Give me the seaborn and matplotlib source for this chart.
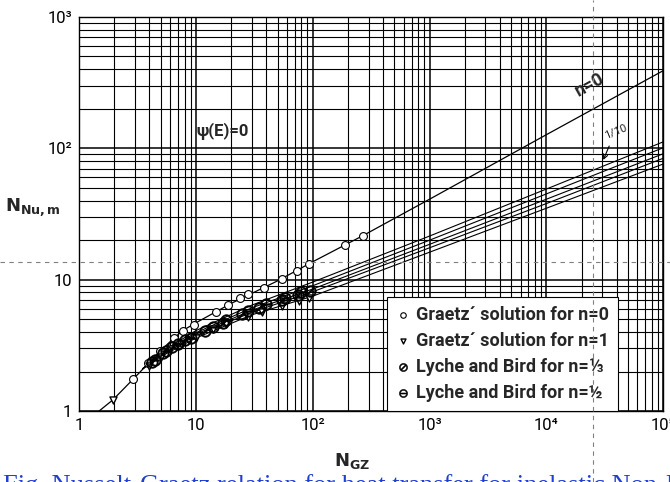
import numpy as np
import pandas as pd
import seaborn as sns
import matplotlib.pyplot as plt
from matplotlib.lines import Line2D
from matplotlib.ticker import FixedLocator, FixedFormatter, LogLocator, NullFormatter

# n = 0 curve
gz_n0 = [1.48, 1.95, 2.9, 3.9, 4.9, 6.5, 7.7, 10, 20, 50, 100, 270, 1000, 10000, 100000]
nu_n0 = [1.0, 1.22, 1.75, 2.3, 2.85, 3.6, 4.1, 4.7, 6.6, 9.8, 13.7, 21.7, 41, 127, 390]

# power-law bundle n = 1/10 ... 1
gz_b = [3.5, 5, 10, 30, 100, 1000, 10000, 100000]
nu_tenth = [2.1, 2.8, 4.1, 6.4, 9.6, 21.5, 49, 112]
nu_fifth = [2.1, 2.75, 3.95, 6.1, 9.0, 20, 45, 101]
nu_third = [2.1, 2.7, 3.85, 5.85, 8.5, 18.6, 41, 91]
nu_half = [2.1, 2.65, 3.75, 5.65, 8.1, 17.5, 38, 84]
nu_one = [2.1, 2.6, 3.6, 5.4, 7.5, 16.2, 35, 76]

# data points
gz_g0 = [2.9, 3.9, 4.9, 6.5, 7.7, 9.6, 15, 19, 24, 28, 38, 55, 73, 93, 190, 270]
nu_g0 = [1.75, 2.32, 2.87, 3.6, 4.1, 4.5, 5.7, 6.4, 7.2, 7.8, 8.7, 10.2, 11.7, 13.2, 18.4, 21.7]
gz_g1 = [1.95, 4, 5, 6, 7.5, 10, 14, 18, 28, 37, 55, 77, 93]
nu_g1 = [1.22, 2.2, 2.6, 2.95, 3.25, 3.6, 4.2, 4.6, 5.2, 5.7, 6.3, 6.9, 7.3]
gz_lb3 = [4.2, 5.2, 6.3, 8, 12, 17, 25, 35, 55, 75, 95]
nu_lb3 = [2.35, 2.75, 3.1, 3.45, 4.05, 4.7, 5.5, 6.1, 7.0, 7.7, 8.2]
gz_lb2 = [4.5, 5.5, 7, 9, 14, 18, 28, 40, 58, 80]
nu_lb2 = [2.45, 2.85, 3.25, 3.6, 4.4, 4.9, 5.8, 6.5, 7.3, 8.0]

x_ticks = [1, 10, 100, 1000, 10000, 100000]
x_labels = ['1', '10', '10²', '10³', '10⁴', '10⁵']
y_ticks = [1, 10, 100, 1000]
y_labels = ['1', '10', '10²', '10³']

sns.set_theme(style='white')
plt.rcParams['font.family'] = ['Roboto', 'DejaVu Sans']

fig = plt.figure(figsize=(6.7, 4.82), dpi=100)
ax = fig.add_axes([0.118, 0.147, 0.872, 0.818])
ax.set_xscale('log')
ax.set_yscale('log')

sns.lineplot(x=gz_n0, y=nu_n0, color='black', lw=0.9, ax=ax, legend=False)
for nu in [nu_tenth, nu_fifth, nu_third, nu_half, nu_one]:
    sns.lineplot(x=gz_b, y=nu, color='black', lw=0.8, ax=ax, legend=False)

sns.scatterplot(x=gz_g0, y=nu_g0, marker='o', s=32, facecolor='white', edgecolor='black',
                linewidth=0.8, ax=ax, label="Graetz´ solution for n=0", zorder=4)
sns.scatterplot(x=gz_g1, y=nu_g1, marker='v', s=26, facecolor='white', edgecolor='black',
                linewidth=1.0, ax=ax, label="Graetz´ solution for n=1", zorder=4)
sns.scatterplot(x=gz_lb3, y=nu_lb3, marker=r'$\oslash$', s=70, facecolor='black',
                edgecolor='black', linewidth=0.4, ax=ax, label="Lyche and Bird for n=⅓", zorder=4)
sns.scatterplot(x=gz_lb2, y=nu_lb2, marker=r'$\ominus$', s=70, facecolor='black',
                edgecolor='black', linewidth=0.4, ax=ax, label="Lyche and Bird for n=½", zorder=4)

ax.set_xlim(1, 1e5)
ax.set_ylim(1, 1e3)

ax.xaxis.set_major_locator(FixedLocator(x_ticks))
ax.xaxis.set_major_formatter(FixedFormatter(x_labels))
ax.yaxis.set_major_locator(FixedLocator(y_ticks))
ax.yaxis.set_major_formatter(FixedFormatter(y_labels))
ax.xaxis.set_minor_locator(LogLocator(base=10, subs=np.arange(2, 10), numticks=20))
ax.yaxis.set_minor_locator(LogLocator(base=10, subs=np.arange(2, 10), numticks=20))
ax.xaxis.set_minor_formatter(NullFormatter())
ax.yaxis.set_minor_formatter(NullFormatter())
ax.tick_params(which='both', length=0, labelsize=12, colors='black', pad=5)

ax.grid(True, which='major', color='black', lw=1.1)
ax.grid(True, which='minor', color='black', lw=0.8)
ax.set_axisbelow(True)
for s in ax.spines.values():
    s.set_color('black')
    s.set_linewidth(1)

ax.set_xlabel(r'$\mathbf{N}_{\mathbf{GZ}}$', fontsize=13)
ax.xaxis.set_label_coords(0.467, -0.1)
ax.set_ylabel(r'$\mathbf{N}_{\mathbf{Nu,m}}$', fontsize=13, rotation=0)
ax.yaxis.set_label_coords(-0.079, 0.49)

ax.text(2.3e4, 300, 'n=0', rotation=29, fontsize=13, fontweight='bold', ha='center', va='center')
ax.text(17, 135, 'ψ(E)=0', fontsize=12, fontweight='bold', ha='center', va='center')
ax.annotate('1/10', xy=(3.0e4, 78), xytext=(3.9e4, 135), fontsize=8, rotation=22,
            ha='center', va='center', arrowprops=dict(arrowstyle='->', lw=0.8, color='black'))

leg = ax.legend(loc='lower right', bbox_to_anchor=(0.922, 0.0), borderaxespad=0,
                frameon=True, fancybox=False, edgecolor='black', framealpha=1,
                prop=dict(family=['Roboto', 'DejaVu Sans'], weight='bold', size=13),
                handletextpad=0.3, handlelength=0.8, labelspacing=0.45, borderpad=0.5,
                markerscale=0.7)
leg.get_frame().set_linewidth(0.8)

# screen guide lines and the cut caption of the scan
fig.add_artist(Line2D([0, 1], [0.456, 0.456], transform=fig.transFigure, color='gray',
                      ls=(0, (4, 4)), lw=0.8))
fig.add_artist(Line2D([0.885, 0.885], [0, 1], transform=fig.transFigure, color='gray',
                      ls=(0, (4, 4)), lw=0.8))
fig.text(0.005, -0.02, 'Fig. Nusselt-Graetz relation for heat transfer for inelastic Non-Newtonian fluids',
         family='Liberation Serif', fontsize=19, color='#2040d0', va='baseline')

fig.savefig('out.png', dpi=100)
